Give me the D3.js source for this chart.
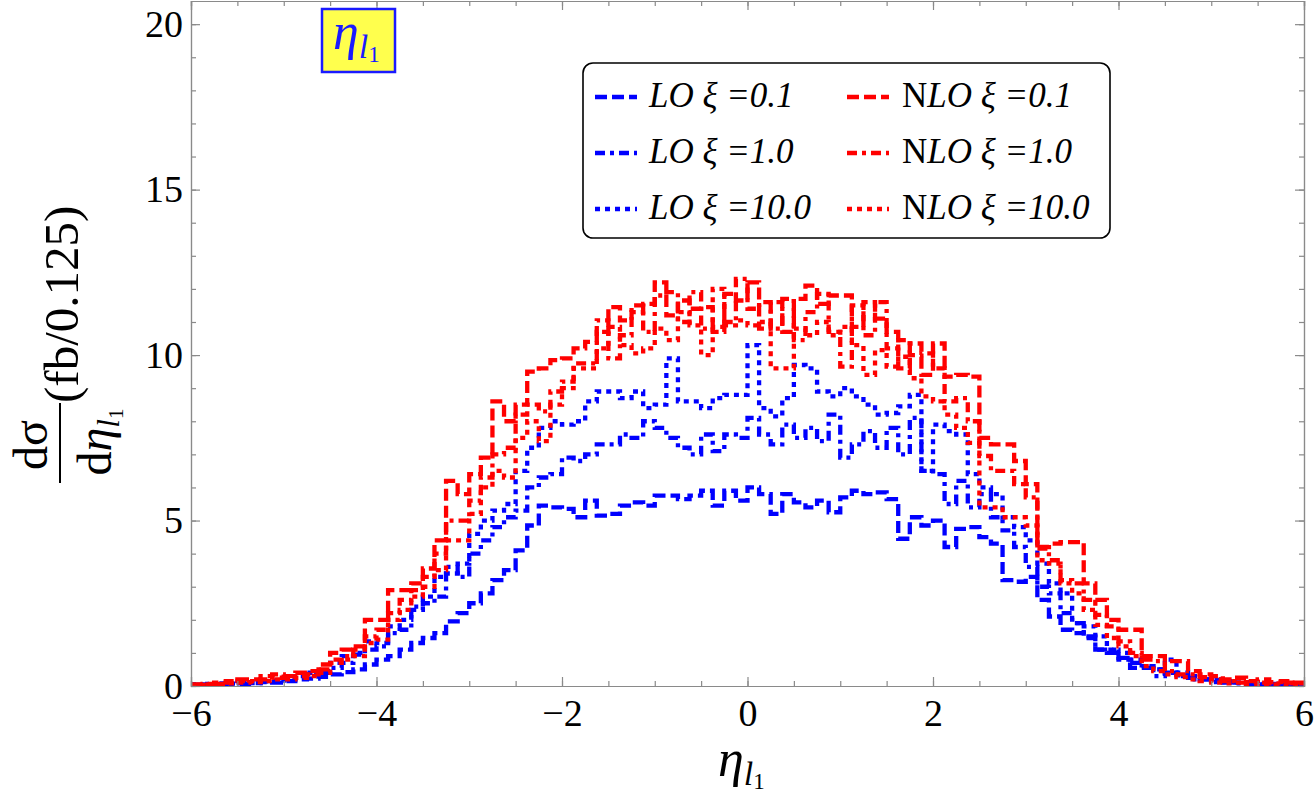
<!DOCTYPE html>
<html><head><meta charset="utf-8">
<script src="https://cdn.jsdelivr.net/npm/d3@7"></script>
<style>body{margin:0;background:#fff}svg{display:block}</style>
</head><body><svg id="c" width="1315" height="798"></svg>
<script>
// ---- data (bins of width 0.125 from -6 to 6) ----
const binStart = -6, binWidth = 0.125;
const lo01 = [0.03,0.05,0.04,0.07,0.06,0.09,0.12,0.10, 0.15,0.20,0.22,0.28,0.35,0.42,0.50,0.65,
  0.80,0.90,1.10,1.30,1.45,1.60,1.95,2.20, 2.50,2.80,3.20,3.50,4.10,4.85,5.45,5.40,
  5.35,5.10,5.60,5.15,5.20,5.45,5.55,5.45, 5.75,5.75,5.65,5.75,5.90,5.45,5.90,5.60,
  6.00,5.80,5.20,5.80,5.55,5.40,5.60,5.25, 5.70,5.90,5.80,5.85,5.65,4.45,5.10,4.85,
  5.00,4.20,4.75,4.80,4.50,4.30,3.20,3.15, 3.30,2.60,2.10,1.70,1.60,1.45,1.10,1.00,
  0.85,0.70,0.55,0.50,0.40,0.32,0.25,0.20, 0.18,0.12,0.10,0.08,0.06,0.05,0.04,0.03];
const lo1 = [0.03,0.06,0.05,0.08,0.10,0.09,0.14,0.16, 0.20,0.25,0.35,0.40,0.55,0.70,0.95,1.10,
  1.20,1.60,1.70,2.40,2.50,2.70,3.60,3.30, 4.00,4.40,4.80,5.10,5.30,6.00,6.30,6.40,
  6.90,6.80,7.00,7.30,7.30,7.60,7.50,8.00, 7.80,7.50,7.20,7.00,7.60,7.10,7.60,7.50,
  8.10,7.60,7.30,7.90,7.50,7.80,7.40,8.20, 6.90,7.30,7.70,7.20,7.80,7.00,8.10,6.50,
  6.40,5.50,6.20,5.40,5.80,5.10,4.70,4.20, 3.60,3.00,2.80,2.20,1.90,1.50,1.10,1.10,
  0.80,0.55,0.60,0.30,0.40,0.30,0.20,0.20, 0.12,0.10,0.08,0.06,0.05,0.05,0.03,0.02];
const lo10 = [0.05,0.04,0.08,0.06,0.10,0.12,0.15,0.18, 0.25,0.30,0.40,0.45,0.70,0.90,1.00,1.35,
  1.30,1.80,2.00,2.30,2.70,3.30,3.40,3.70, 4.60,5.00,5.30,5.50,6.50,7.20,7.80,8.00,
  7.90,8.00,8.60,8.90,8.90,8.70,8.90,8.40, 8.50,9.90,8.60,8.60,8.40,8.70,8.80,8.80,
  10.30,8.40,8.15,8.70,9.70,9.60,8.90,8.75, 9.00,8.75,8.50,8.20,8.25,8.45,8.80,6.50,
  7.90,7.70,7.60,6.40,6.00,5.80,5.10,4.80, 4.40,3.70,3.10,2.80,1.90,1.80,1.50,1.10,
  1.00,0.80,0.60,0.50,0.80,0.40,0.30,0.25, 0.20,0.15,0.10,0.12,0.08,0.06,0.05,0.04];
const nlo01 = [0.05,0.06,0.10,0.15,0.20,0.20,0.30,0.35, 0.30,0.40,0.45,0.65,1.00,1.10,1.20,2.00,
  2.00,2.90,2.90,3.10,3.55,4.40,6.20,5.80, 6.40,6.90,8.60,8.00,8.50,9.50,9.60,9.85,
  9.90,10.20,10.40,10.70,11.45,11.05,11.30,11.55, 12.20,11.20,11.65,11.40,11.45,10.85,11.85,11.65,
  12.20,10.80,11.60,10.70,11.70,12.10,11.55,11.80, 11.80,10.85,11.60,11.10,10.70,9.60,10.35,9.40,
  10.35,9.35,9.40,9.35,7.50,7.30,7.30,6.80, 6.10,4.20,4.30,4.35,4.35,3.10,2.60,2.00,
  1.70,1.70,0.90,0.90,0.75,0.75,0.45,0.35, 0.30,0.20,0.25,0.15,0.20,0.12,0.15,0.10];
const nlo1 = [0.03,0.05,0.06,0.10,0.15,0.15,0.20,0.25, 0.25,0.30,0.35,0.50,0.80,0.90,1.10,1.50,
  1.70,2.20,2.60,2.90,3.30,4.00,5.00,5.00, 5.60,6.30,7.00,7.20,8.20,8.50,8.30,8.90,
  9.20,9.75,9.75,11.05,9.90,10.60,11.50,10.70, 11.80,11.90,11.00,11.90,10.80,10.70,11.00,12.30,
  11.40,11.60,10.80,11.70,10.45,11.30,11.85,10.70, 9.65,11.50,10.60,11.60,10.20,10.45,10.00,10.05,
  9.60,8.60,8.70,8.00,6.95,6.50,6.50,6.10, 5.70,4.15,3.80,3.20,3.10,2.60,2.15,1.80,
  1.35,1.00,0.80,0.75,0.45,0.35,0.35,0.27, 0.20,0.15,0.10,0.12,0.10,0.08,0.10,0.08];
const nlo10 = [0.02,0.03,0.05,0.08,0.10,0.12,0.15,0.20, 0.20,0.25,0.30,0.40,0.70,0.80,0.90,1.30,
  1.40,2.00,2.30,2.70,3.00,3.50,4.40,4.40, 5.20,6.00,6.50,6.30,7.50,8.00,7.40,8.50,
  9.00,9.60,9.60,10.20,10.85,10.30,10.05,10.20, 10.80,10.45,11.30,10.90,10.00,12.00,10.90,11.05,
  10.90,11.00,9.60,9.60,10.80,10.60,11.00,10.60, 10.85,10.30,9.40,10.15,9.65,9.95,9.30,8.75,
  8.60,8.20,7.80,7.35,5.40,5.40,5.10,5.10, 4.85,3.80,3.70,3.10,2.80,2.30,1.85,1.45,
  1.20,0.90,0.60,0.45,0.35,0.27,0.20,0.15, 0.10,0.08,0.10,0.05,0.06,0.05,0.05,0.04];
const seriesNames = ["LO ξ =0.1","LO ξ =1.0","LO ξ =10.0","NLO ξ =0.1","NLO ξ =1.0","NLO ξ =10.0"];
const xTicks = [-6,-4,-2,0,2,4,6];
const yTicks = [0,5,10,15,20];
const xMinor = d3.range(-6, 6.001, 0.5);
const yMinor = d3.range(0, 20.5, 1);

// ---- layout ----
const L = 191, R = 1304, T = 1, B = 686;
const svg = d3.select('#c');
const x = d3.scaleLinear().domain([-6, 6]).range([L, R]);
const y = d3.scaleLinear().domain([0, 20.7]).range([B, T]);
const FONT = '"Liberation Serif","Times New Roman",serif';
const frameColor = '#8a8a8a';

const dashes = ['12,5', '10,5,4,5', '5,5'];
const series = [
  {v: lo01, c: '#0000ff', d: dashes[0], n: seriesNames[0]},
  {v: lo1, c: '#0000ff', d: dashes[1], n: seriesNames[1]},
  {v: lo10, c: '#0000ff', d: dashes[2], n: seriesNames[2]},
  {v: nlo01, c: '#ff0000', d: dashes[0], n: seriesNames[3]},
  {v: nlo1, c: '#ff0000', d: dashes[1], n: seriesNames[4]},
  {v: nlo10, c: '#ff0000', d: dashes[2], n: seriesNames[5]}
];

svg.append('clipPath').attr('id','pc').append('rect')
  .attr('x', L).attr('y', T).attr('width', R - L).attr('height', B - T);

const line = d3.line().x(d => x(d[0])).y(d => y(d[1])).curve(d3.curveStepAfter);
const gData = svg.append('g').attr('clip-path','url(#pc)');
series.forEach(s => {
  const pts = s.v.map((v, i) => [binStart + i * binWidth, v]);
  pts.push([binStart + s.v.length * binWidth, s.v[s.v.length - 1]]);
  gData.append('path').attr('d', line(pts)).attr('fill','none')
    .attr('stroke', s.c).attr('stroke-width', 4.3).attr('stroke-dasharray', s.d)
    .attr('stroke-linejoin','miter');
});

// ---- axes (frame with inward ticks on all sides) ----
function styleAxis(g) {
  g.selectAll('.domain').attr('stroke', frameColor).attr('stroke-width', 1.2);
  g.selectAll('.tick line').attr('stroke', frameColor).attr('stroke-width', 1.2);
  g.selectAll('text').attr('font-family', FONT).attr('font-size', 38).attr('fill', '#000');
}
const noLab = () => '';
const fmt = d => d < 0 ? '\u2212' + Math.abs(d) : String(d);

// minor ticks
svg.append('g').attr('transform', `translate(0,${B})`).call(d3.axisBottom(x).tickValues(xMinor).tickSize(-5).tickFormat(noLab)).call(styleAxis);
svg.append('g').attr('transform', `translate(0,${T})`).call(d3.axisTop(x).tickValues(xMinor).tickSize(-5).tickFormat(noLab)).call(styleAxis);
svg.append('g').attr('transform', `translate(${L},0)`).call(d3.axisLeft(y).tickValues(yMinor).tickSize(-5).tickFormat(noLab)).call(styleAxis);
svg.append('g').attr('transform', `translate(${R},0)`).call(d3.axisRight(y).tickValues(yMinor).tickSize(-5).tickFormat(noLab)).call(styleAxis);
// major ticks
svg.append('g').attr('transform', `translate(0,${B})`).call(d3.axisBottom(x).tickValues(xTicks).tickSize(-9).tickPadding(13).tickFormat(fmt)).call(styleAxis);
svg.append('g').attr('transform', `translate(0,${T})`).call(d3.axisTop(x).tickValues(xTicks).tickSize(-9).tickFormat(noLab)).call(styleAxis);
svg.append('g').attr('transform', `translate(${L},0)`).call(d3.axisLeft(y).tickValues(yTicks).tickSize(-9).tickPadding(8).tickFormat(fmt)).call(styleAxis);
svg.append('g').attr('transform', `translate(${R},0)`).call(d3.axisRight(y).tickValues(yTicks).tickSize(-9).tickFormat(noLab)).call(styleAxis);

// ---- x label ----
const xl = svg.append('text').attr('x', 718).attr('y', 776).attr('font-family', FONT).attr('fill', '#000');
xl.append('tspan').attr('font-size', 52).attr('font-style', 'italic').text('η');
xl.append('tspan').attr('font-size', 34).attr('font-style', 'italic').attr('dy', 9).text('l');
xl.append('tspan').attr('font-size', 23).attr('dy', 4).text('1');

// ---- y label (rotated) ----
const yl = svg.append('g').attr('transform', 'translate(60,483) rotate(-90)')
  .attr('font-family', FONT).attr('fill', '#000');
yl.append('text').attr('x', 38).attr('y', -13).attr('text-anchor', 'middle').attr('font-size', 48).text('dσ');
yl.append('line').attr('x1', 0).attr('x2', 80).attr('y1', 0).attr('y2', 0).attr('stroke', '#000').attr('stroke-width', 2);
const den = yl.append('text').attr('x', 41).attr('y', 51).attr('text-anchor', 'middle');
den.append('tspan').attr('font-size', 48).text('d');
den.append('tspan').attr('font-size', 48).attr('font-style', 'italic').text('η');
den.append('tspan').attr('font-size', 31).attr('font-style', 'italic').attr('dy', 8).text('l');
den.append('tspan').attr('font-size', 21).attr('dy', 4).text('1');
yl.append('text').attr('x', 80).attr('y', 18).attr('font-size', 49).text('(fb/0.125)');

// ---- title box ----
svg.append('rect').attr('x', 322).attr('y', 9).attr('width', 73).attr('height', 63)
  .attr('fill', '#ffff4d').attr('stroke', '#1a1aff').attr('stroke-width', 2.5);
const tt = svg.append('text').attr('x', 333).attr('y', 49).attr('font-family', FONT).attr('fill', '#1a1aff');
tt.append('tspan').attr('font-size', 52).attr('font-style', 'italic').text('η');
tt.append('tspan').attr('font-size', 34).attr('font-style', 'italic').attr('dy', 9).text('l');
tt.append('tspan').attr('font-size', 23).attr('dy', 4).text('1');

// ---- legend ----
svg.append('rect').attr('x', 583).attr('y', 63).attr('width', 527).attr('height', 175)
  .attr('rx', 10).attr('fill', '#fff').attr('stroke', '#000').attr('stroke-width', 1.6);
const rowY = [97, 153, 209];
series.forEach((s, i) => {
  const col = i < 3 ? 0 : 1, row = i % 3;
  const lx = col === 0 ? 595 : 847, tx = col === 0 ? 649 : 902;
  svg.append('line').attr('x1', lx).attr('x2', lx + 42).attr('y1', rowY[row]).attr('y2', rowY[row])
    .attr('stroke', s.c).attr('stroke-width', 4.3).attr('stroke-dasharray', s.d);
  const t = svg.append('text').attr('x', tx).attr('y', rowY[row] + 10)
    .attr('font-family', FONT).attr('font-size', 35).attr('fill', '#000');
  if (s.n.startsWith('N')) {
    t.append('tspan').text('N');
    t.append('tspan').attr('font-style', 'italic').text(s.n.slice(1));
  } else {
    t.append('tspan').attr('font-style', 'italic').text(s.n);
  }
});
</script></body></html>
